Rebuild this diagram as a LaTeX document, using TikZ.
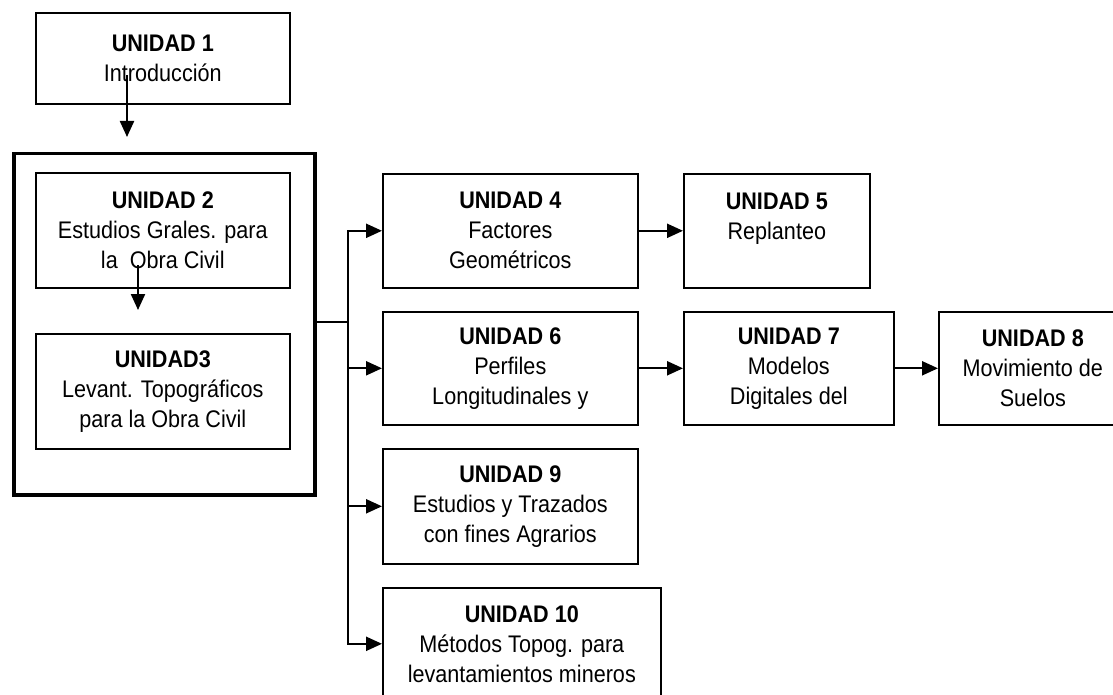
\documentclass[tikz,border=0pt]{standalone}
\usepackage{fontspec}
\setmainfont{Liberation Sans}[FakeStretch=0.9]
\usetikzlibrary{arrows.meta,calc}

\begin{document}
\begin{tikzpicture}[x=1pt, y=-1pt,
                    every node/.style = {anchor=north west, align=center, inner sep=0pt,
                                         font=\fontsize{24}{30}\selectfont},
                    unidad/.style = {draw, line width=1.6pt},
                    grupo/.style = {draw, line width=3.5pt},
                    linea/.style = {line width=2.2pt, line cap=rect},
                    flecha/.style = {line width=2.2pt, -{Triangle[length=16pt,width=14pt]}}]
                \useasboundingbox (0,0) rectangle (1113,695);
                \clip (0,0) rectangle (1113,695);
                % left column
                \node[unidad, minimum width=254pt, minimum height=91pt] (U1) at (35,12)
                    {\textbf{UNIDAD 1}\\Introducción};
                \node[grupo, minimum width=301pt, minimum height=341pt] (G) at (12,152) {};
                \node[unidad, minimum width=254pt, minimum height=115pt] (U2) at (35,172)
                    {\textbf{UNIDAD 2}\\Estudios Grales. para\\la~ Obra Civil};
                \node[unidad, minimum width=254pt, minimum height=115pt] (U3) at (35,333)
                    {\textbf{UNIDAD3}\\Levant. Topográficos\\para la Obra Civil};
                % right part
                \node[unidad, minimum width=255pt, minimum height=114pt] (U4) at (382,173)
                    {\textbf{UNIDAD 4}\\Factores\\Geométricos};
                \node[unidad, minimum width=186pt, minimum height=114pt] (U5) at (683,173)
                    {\textbf{UNIDAD 5}\\Replanteo\\\mbox{}};
                \node[unidad, minimum width=255pt, minimum height=113pt] (U6) at (382,311)
                    {\textbf{UNIDAD 6}\\Perfiles\\Longitudinales y};
                \node[unidad, minimum width=210pt, minimum height=113pt] (U7) at (683,311)
                    {\textbf{UNIDAD 7}\\Modelos\\Digitales del};
                \node[unidad, minimum width=188pt, minimum height=113pt] (U8) at (938,311)
                    {\textbf{UNIDAD 8}\\Movimiento de\\Suelos};
                \node[unidad, minimum width=255pt, minimum height=115pt] (U9) at (382,448)
                    {\textbf{UNIDAD 9}\\Estudios y Trazados\\con fines Agrarios};
                \node[unidad, minimum width=278pt, minimum height=112pt] (U10) at (382,587)
                    {\textbf{UNIDAD 10}\\Métodos Topog. para\\levantamientos mineros};
                % connectors
                \coordinate (a1) at (127,75);
                \coordinate (a1e) at (127,137);
                \coordinate (a2) at (138,265);
                \coordinate (a2e) at (138,310);
                \coordinate (bus) at (348,322);
                \draw[flecha] (a1) -- (a1e);
                \draw[flecha] (a2) -- (a2e);
                \draw[linea] (G.east |- bus) -- (bus);
                \draw[linea] (bus |- U4.west) -- (bus |- U10.west);
                \foreach \u in {U4,U6,U9,U10}
                    \draw[flecha] (bus |- \u.west) -- (\u.west);
                \draw[flecha] (U4.east) -- (U4.east -| U5.west);
                \draw[flecha] (U6.east) -- (U6.east -| U7.west);
                \draw[flecha] (U7.east) -- (U7.east -| U8.west);
\end{tikzpicture}
\end{document}
